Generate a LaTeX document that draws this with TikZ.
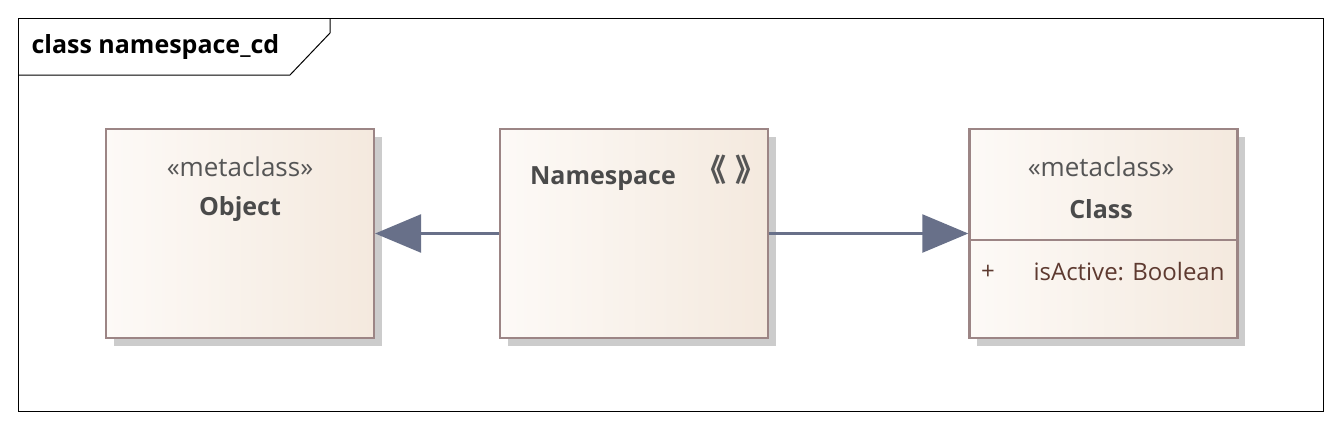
\documentclass[tikz,border=0pt]{standalone}
\usepackage{fontspec}
\setmainfont{Open Sans}
\newfontfamily\cjkfont{Noto Sans CJK SC}
\usetikzlibrary{arrows.meta,positioning,shadows}

\definecolor{boxline}{HTML}{9C8585}
\definecolor{boxleft}{HTML}{FDFAF7}
\definecolor{boxright}{HTML}{F4E9DE}
\definecolor{flowcol}{HTML}{687089}
\definecolor{stereocol}{HTML}{555555}
\definecolor{namecol}{HTML}{4A4A4A}
\definecolor{attrcol}{HTML}{5E3A30}

\begin{document}
\begin{tikzpicture}[x=1pt,y=-1pt,
  umlbox/.style={draw=boxline,line width=2.2pt,left color=boxleft,right color=boxright,
    minimum width=268pt,minimum height=209pt,inner sep=0pt,
    drop shadow={shadow xshift=8pt,shadow yshift=-8pt,fill=black!20,opacity=1}},
  stereo/.style={font=\fontsize{26}{30}\selectfont,text=stereocol},
  cname/.style={font=\fontsize{25}{30}\selectfont\bfseries,text=namecol},
  attr/.style={font=\fontsize{24}{28}\selectfont,text=attrcol},
  guill/.style={stereo,font=\fontsize{31}{34}\cjkfont\bfseries,inner sep=0pt},
  gen/.style={-{Triangle[length=46pt,width=38pt]},line width=2.5pt,flowcol}]
\useasboundingbox (0,0) rectangle (1341,429);
% diagram frame
\draw[line width=1pt] (18,18) rectangle (1323,411);
\draw[line width=1pt] (18,75) -- (290,75) -- (330,33) -- (330,18);
\node[anchor=west,font=\fontsize{25}{30}\selectfont\bfseries] (title) at (28,47) {class namespace\_cd};

\node[umlbox] (object) at (240,233.5) {};
\node[umlbox,right=124pt of object] (namespace) {};
\node[umlbox,right=199pt of namespace] (class) {};
\draw[boxline,line width=2.2pt] (class.west|-0,240) -- (class.east|-0,240);

\node[stereo] (objstereo) at (240,167) {«metaclass»};
\node[cname] (objname) at (240,209) {Object};
\node[cname] (nsname) at (603,179) {Namespace};
\node[guill] (nsopen) at (711,170) {《};
\node[guill] (nsclose) at (751,170) {》};
\node[stereo] (clsstereo) at (1101,167) {«metaclass»};
\node[cname] (clsname) at (1101,209) {Class};
\node[attr] (plus) at (988,272) {+};
\node[attr,anchor=west] (isactive) at (1030,272) {isActive: Boolean};

\draw[gen] (namespace) -- (object);
\draw[gen] (namespace) -- (class);
\end{tikzpicture}
\end{document}
